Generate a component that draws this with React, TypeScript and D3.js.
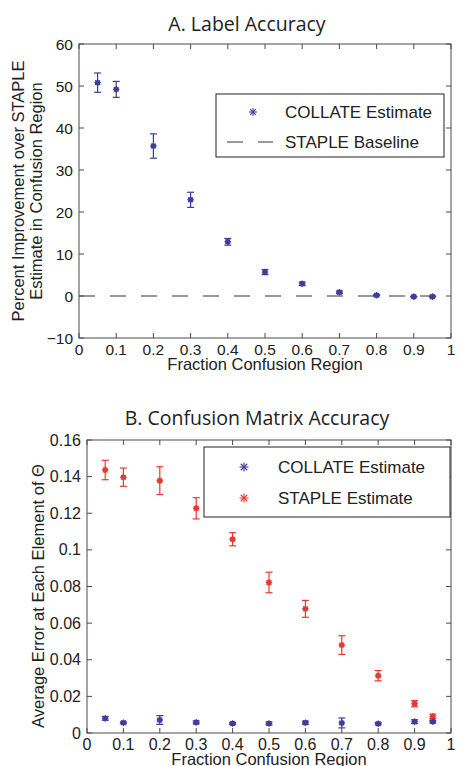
import React from 'react';
import * as d3 from 'd3';

// fraction of the confusion region
const fractions = [0.05, 0.1, 0.2, 0.3, 0.4, 0.5, 0.6, 0.7, 0.8, 0.9, 0.95];

// panel A: percent improvement of COLLATE over STAPLE
const labelMean = [50.8, 49.2, 35.7, 22.9, 12.9, 5.7, 2.9, 0.9, 0.17, -0.15, -0.15];
const labelErr = [2.3, 1.9, 2.9, 1.8, 0.8, 0.6, 0.4, 0.3, 0.15, 0.1, 0.1];

// panel B: average error at each element of theta
const collateMean = [0.008, 0.0056, 0.0071, 0.0058, 0.0052, 0.0052, 0.0056, 0.0055, 0.0051, 0.0062, 0.0062];
const collateErr = [0.001, 0.0005, 0.0024, 0.0008, 0.0006, 0.0008, 0.0008, 0.0027, 0.0006, 0.001, 0.0007];
const stapleMean = [0.1436, 0.1397, 0.1378, 0.1227, 0.1058, 0.0822, 0.0678, 0.048, 0.0313, 0.016, 0.0091];
const stapleErr = [0.0053, 0.005, 0.0076, 0.0058, 0.0036, 0.0056, 0.0046, 0.0051, 0.0028, 0.0017, 0.0012];

const xTicks = [0, 0.1, 0.2, 0.3, 0.4, 0.5, 0.6, 0.7, 0.8, 0.9, 1];
const yTicksA = [-10, 0, 10, 20, 30, 40, 50, 60];
const yTicksB = [0, 0.02, 0.04, 0.06, 0.08, 0.1, 0.12, 0.14, 0.16];

const BLUE = '#3d3d9e';
const RED = '#e8392e';
const AXIS = '#4a4a4a';
const TEXT = '#222';
const FONT = 'Liberation Sans, Arial, sans-serif';
const TITLE_FONT = 'Open Sans, sans-serif';
const LABEL_FS = 16.5;

function Star({ x, y, color, size = 4, dot = true }) {
  const s = size;
  const d = s * 0.72;
  return (
    <g stroke={color} strokeWidth={1.1}>
      <line x1={x} y1={y - s} x2={x} y2={y + s} />
      <line x1={x - s} y1={y} x2={x + s} y2={y} />
      <line x1={x - d} y1={y - d} x2={x + d} y2={y + d} />
      <line x1={x - d} y1={y + d} x2={x + d} y2={y - d} />
      {dot && <circle cx={x} cy={y} r={2.7} fill={color} stroke="none" />}
    </g>
  );
}

function ErrorSeries({ x, y, means, errs, color }) {
  return (
    <g>
      {fractions.map((f, i) => {
        const cx = x(f);
        const top = y(means[i] + errs[i]);
        const bot = y(means[i] - errs[i]);
        return (
          <g key={i} stroke={color} strokeWidth={1.2}>
            <line x1={cx} x2={cx} y1={top} y2={bot} />
            <line x1={cx - 3.5} x2={cx + 3.5} y1={top} y2={top} />
            <line x1={cx - 3.5} x2={cx + 3.5} y1={bot} y2={bot} />
            <Star x={cx} y={y(means[i])} color={color} size={3.3} />
          </g>
        );
      })}
    </g>
  );
}

function Frame({ x, y, yTicks, yFmt, fs }) {
  const [x0, x1] = x.range();
  const [y0, y1] = y.range();
  return (
    <g>
      <rect x={x0} y={y1} width={x1 - x0} height={y0 - y1} fill="none" stroke={AXIS} strokeWidth={1} />
      {xTicks.map(t => (
        <g key={'x' + t} stroke={AXIS}>
          <line x1={x(t)} x2={x(t)} y1={y0} y2={y0 - 5} />
          <line x1={x(t)} x2={x(t)} y1={y1} y2={y1 + 5} />
        </g>
      ))}
      {yTicks.map(t => (
        <g key={'y' + t} stroke={AXIS}>
          <line x1={x0} x2={x0 + 5} y1={y(t)} y2={y(t)} />
          <line x1={x1} x2={x1 - 5} y1={y(t)} y2={y(t)} />
        </g>
      ))}
      {xTicks.map(t => (
        <text key={'xl' + t} x={x(t)} y={y0 + 16.5} textAnchor="middle" fontSize={fs} fill={TEXT} fontFamily={FONT}>
          {String(t)}
        </text>
      ))}
      {yTicks.map(t => (
        <text key={'yl' + t} x={x0 - 6} y={y(t) + 5.5} textAnchor="end" fontSize={fs} fill={TEXT} fontFamily={FONT}>
          {yFmt(t)}
        </text>
      ))}
    </g>
  );
}

export default function App() {
  const xA = d3.scaleLinear().domain([0, 1]).range([79, 451]);
  const yA = d3.scaleLinear().domain([-10, 60]).range([338, 44]);
  const xB = d3.scaleLinear().domain([0, 1]).range([87, 451]);
  const yB = d3.scaleLinear().domain([0, 0.16]).range([733, 440]);

  const fmtA = (t: number) => (t < 0 ? '\u2212' + Math.abs(t) : String(t));
  const fmtB = (t: number) => String(+t.toFixed(2));

  return (
    <svg width={461} height={766} style={{ position: 'absolute', left: 0, top: 0, background: '#fff' }}>
      {/* Panel A */}
      <text x={247} y={31} textAnchor="middle" fontSize={19.5} fontFamily={TITLE_FONT} fill={TEXT}>A. Label Accuracy</text>
      <line x1={xA(0)} x2={xA(1)} y1={yA(0)} y2={yA(0)} stroke="#333" strokeWidth={1.2} strokeDasharray="16,15" />
      <ErrorSeries x={xA} y={yA} means={labelMean} errs={labelErr} color={BLUE} />
      <Frame x={xA} y={yA} yTicks={yTicksA} yFmt={fmtA} fs={15.5} />
      <text x={265} y={370} textAnchor="middle" fontSize={LABEL_FS} fontFamily={FONT} fill={TEXT}>Fraction Confusion Region</text>
      <g transform="translate(18,191) rotate(-90)">
        <text x={0} y={6} textAnchor="middle" fontSize={LABEL_FS} fontFamily={FONT} fill={TEXT}>Percent Improvement over STAPLE</text>
        <text x={0} y={24} textAnchor="middle" fontSize={LABEL_FS} fontFamily={FONT} fill={TEXT}>Estimate in Confusion Region</text>
      </g>
      <g>
        <rect x={216} y={94} width={228} height={63} fill="#fff" stroke={TEXT} strokeWidth={1} />
        <Star x={253} y={112} color={BLUE} size={4} dot={false} />
        <text x={285} y={118} fontSize={17} fontFamily={FONT} fill={TEXT}>COLLATE Estimate</text>
        <line x1={227} x2={273} y1={142} y2={142} stroke="#333" strokeWidth={1.2} strokeDasharray="16,15" />
        <text x={285} y={148} fontSize={17} fontFamily={FONT} fill={TEXT}>STAPLE Baseline</text>
      </g>

      {/* Panel B */}
      <text x={257} y={425} textAnchor="middle" fontSize={19.5} fontFamily={TITLE_FONT} fill={TEXT}>B. Confusion Matrix Accuracy</text>
      <ErrorSeries x={xB} y={yB} means={stapleMean} errs={stapleErr} color={RED} />
      <ErrorSeries x={xB} y={yB} means={collateMean} errs={collateErr} color={BLUE} />
      <Frame x={xB} y={yB} yTicks={yTicksB} yFmt={fmtB} fs={16} />
      <text x={269} y={765} textAnchor="middle" fontSize={LABEL_FS} fontFamily={FONT} fill={TEXT}>Fraction Confusion Region</text>
      <g transform="translate(38,596) rotate(-90)">
        <text x={0} y={6} textAnchor="middle" fontSize={LABEL_FS} fontFamily={FONT} fill={TEXT}>Average Error at Each Element of Θ</text>
      </g>
      <g>
        <rect x={204} y={447} width={246} height={70} fill="#fff" stroke={TEXT} strokeWidth={1} />
        <Star x={244} y={467} color={BLUE} size={4.5} dot={false} />
        <text x={278} y={473} fontSize={17} fontFamily={FONT} fill={TEXT}>COLLATE Estimate</text>
        <Star x={244} y={498} color={RED} size={4.5} dot={false} />
        <text x={278} y={504} fontSize={17} fontFamily={FONT} fill={TEXT}>STAPLE Estimate</text>
      </g>
    </svg>
  );
}
